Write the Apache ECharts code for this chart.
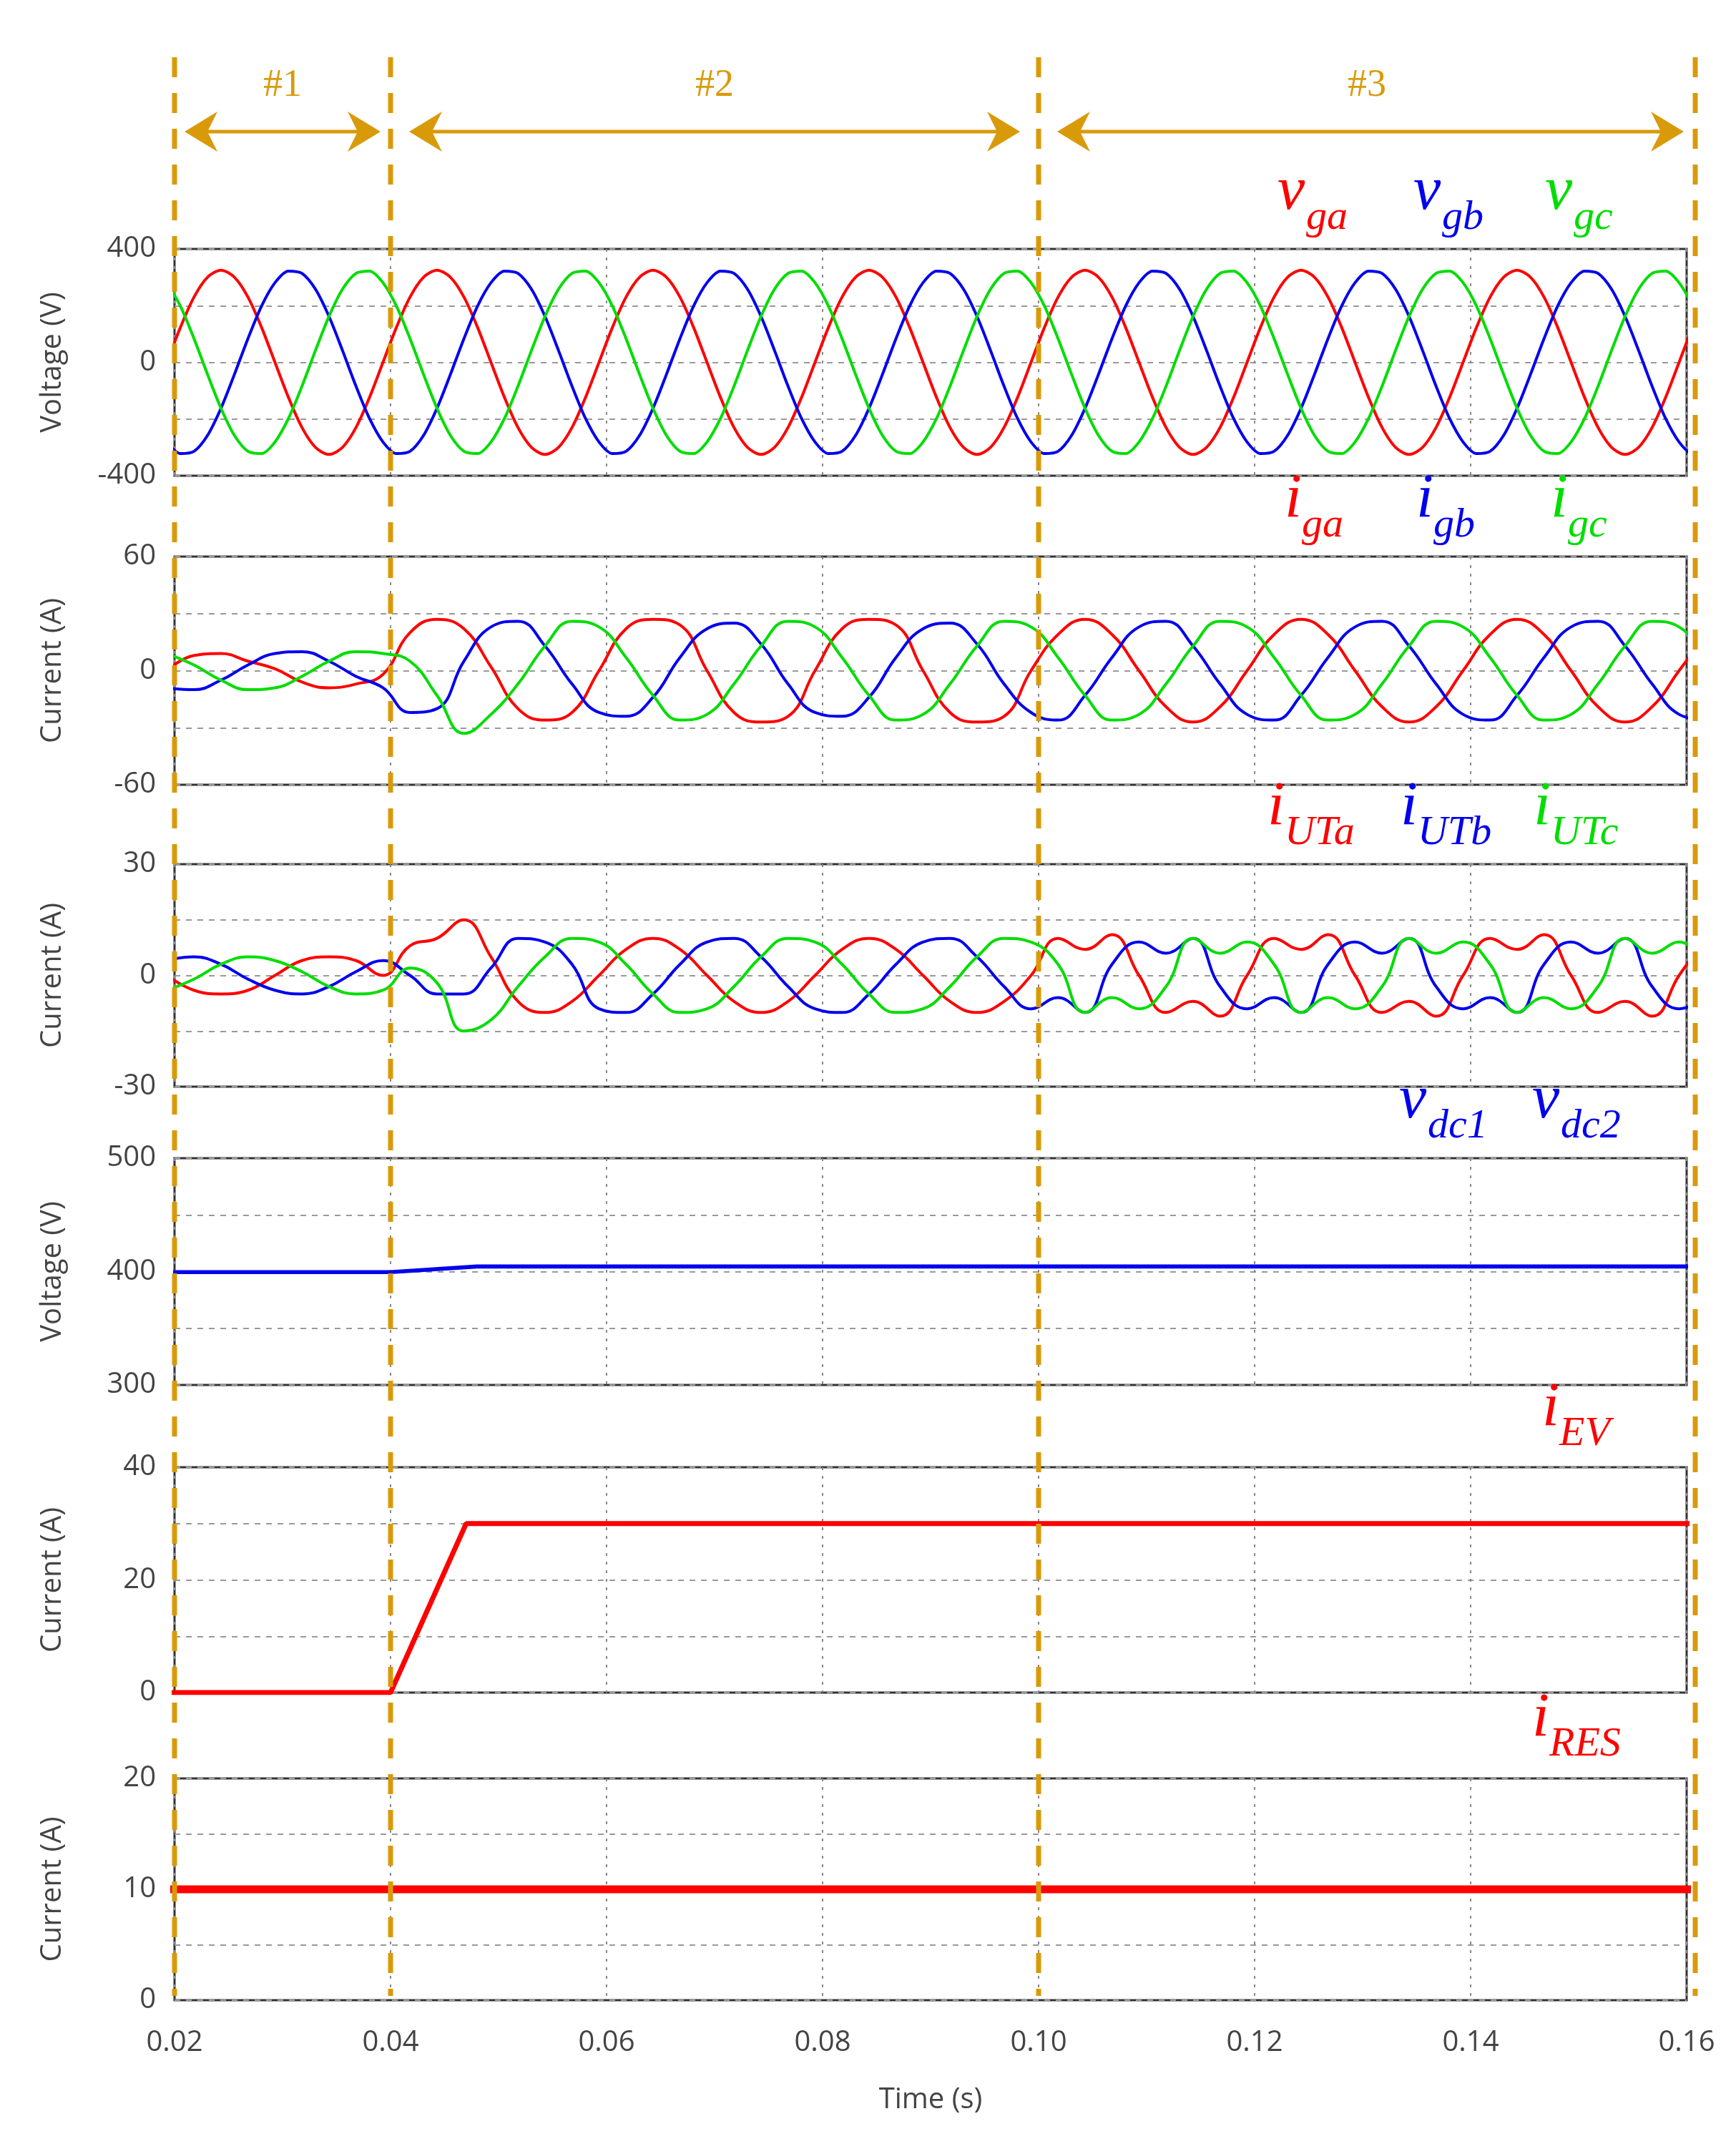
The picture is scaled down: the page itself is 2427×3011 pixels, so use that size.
<!DOCTYPE html>
<html>
<head>
<meta charset="utf-8">
<script src="https://cdn.jsdelivr.net/npm/echarts@6/dist/echarts.min.js"></script>
<style>html,body{margin:0;padding:0;background:#fff}#main{width:2427px;height:3011px}</style>
</head>
<body>
<div id="main"></div>
<script>
// sample times start at 0.0193 s; voltages every 0.00125 s, currents every 0.0025 s
var t0 = 0.0193, dtV = 0.00125, dtI = 0.0025;

// grid voltages (V)
var vga = [0,124,230,300,325,300,230,124,0,-124,-230,-300,-325,-300,-230,-124,
  0,124,230,300,325,300,230,124,0,-124,-230,-300,-325,-300,-230,-124,
  0,124,230,300,325,300,230,124,0,-124,-230,-300,-325,-300,-230,-124,
  0,124,230,300,325,300,230,124,0,-124,-230,-300,-325,-300,-230,-124,
  0,124,230,300,325,300,230,124,0,-124,-230,-300,-325,-300,-230,-124,
  0,124,230,300,325,300,230,124,0,-124,-230,-300,-325,-300,-230,-124,
  0,124,230,300,325,300,230,124,0,-124,-230,-300,-325,-300,-230,-124,
  0,124,230];
var vgb = [-281,-322,-314,-258,-162,-42,84,198,281,322,314,258,162,42,-84,-198,
  -281,-322,-314,-258,-162,-42,84,198,281,322,314,258,162,42,-84,-198,
  -281,-322,-314,-258,-162,-42,84,198,281,322,314,258,162,42,-84,-198,
  -281,-322,-314,-258,-162,-42,84,198,281,322,314,258,162,42,-84,-198,
  -281,-322,-314,-258,-162,-42,84,198,281,322,314,258,162,42,-84,-198,
  -281,-322,-314,-258,-162,-42,84,198,281,322,314,258,162,42,-84,-198,
  -281,-322,-314,-258,-162,-42,84,198,281,322,314,258,162,42,-84,-198,
  -281,-322,-314];
var vgc = [281,198,84,-42,-162,-258,-314,-322,-281,-198,-84,42,162,258,314,322,
  281,198,84,-42,-162,-258,-314,-322,-281,-198,-84,42,162,258,314,322,
  281,198,84,-42,-162,-258,-314,-322,-281,-198,-84,42,162,258,314,322,
  281,198,84,-42,-162,-258,-314,-322,-281,-198,-84,42,162,258,314,322,
  281,198,84,-42,-162,-258,-314,-322,-281,-198,-84,42,162,258,314,322,
  281,198,84,-42,-162,-258,-314,-322,-281,-198,-84,42,162,258,314,322,
  281,198,84,-42,-162,-258,-314,-322,-281,-198,-84,42,162,258,314,322,
  281,198,84];

// grid currents (A)
var iga = [0,8,9,5,1,-6,-9,-7,-2, 20,27,22,2,-20,-26,-22, 0,22,27,24,0,-22,-27,-24, 0,22,27,24,0,-22,-27,-24, 0,
  19,27,19,0,-19,-27,-19, 0,19,27,19,0,-19,-27,-19, 0,19,27,19,0,-19,-27,-19, 0,19];
var igb = [-9,-10,-5,3,9,10,5,-3,-9, -22,-20,5,23,26,13,-7, -22,-24,-14,7,22,25,14,-7, -22,-24,-14,7,22,25,14,-7, -22,
  -26,-13,7,23,26,13,-7, -23,-26,-13,7,23,26,13,-7, -23,-26,-13,7,23,26,13,-7, -23,-26];
var igc = [9,3,-5,-10,-9,-3,5,10,9, 5,-13,-33,-23,-7,13,26, 23,7,-13,-26,-23,-7,13,26, 23,7,-13,-26,-23,-7,13,26, 23,
  7,-13,-26,-23,-7,13,26, 23,7,-13,-26,-23,-7,13,26, 23,7,-13,-26,-23,-7,13,26, 23,7];

// utility-side converter currents (A)
var iua = [0,-4,-5,-4,0,4,5,4,0, 8,10,15,5,-7,-10,-7, 0,7,10,7,0,-7,-10,-7, 0,7,10,7,0,-7,-10,-7, 0,
  10,7,11,0,-10,-7,-11, 0,10,7,11,0,-10,-7,-11, 0,10,7,11,0,-10,-7,-11, 0,10];
var iub = [4,5,3,-1,-4,-5,-3,1,4, 0,-5,-5,2,10,9,3, -9,-10,-5,3,9,10,5,-3, -9,-10,-5,3,9,10,5,-3, -9,
  -6,-10,3,9,6,10,-3, -9,-6,-10,3,9,6,10,-3, -9,-6,-10,3,9,6,10,-3, -9,-6];
var iuc = [-4,-1,3,5,4,1,-3,-5,-4, 2,-2,-15,-12,-3,5,10, 9,3,-5,-10,-9,-3,5,10, 9,3,-5,-10,-9,-3,5,10, 9,
  3,-10,-6,-9,-3,10,6, 9,3,-10,-6,-9,-3,10,6, 9,3,-10,-6,-9,-3,10,6, 9,3];

// dc link, EV and RES
var dcT = [0.0193,0.040,0.048,0.1618];
var vdc1 = [400,400,405,405];
var vdc2 = [399,399,404,404];
var evT = [0.0193,0.040,0.047,0.1618];
var iEV = [0,0,30,30];
var resT = [0.0193,0.1618];
var iRES = [10,10];

var RED = '#ff0000', BLUE = '#0000ee', GREEN = '#00dd00', GOLD = '#d99a0a';

function pairs(xs, ys, step) {
	var out = [];
	for (var i = 0; i < ys.length; i++) out.push([xs ? xs[i] : +(t0 + i * step).toFixed(5), ys[i]]);
	return out;
}

var tops = [348, 778, 1208, 1619, 2051, 2486];
var hts = [317, 319, 311, 317, 315, 310];
var yCfg = [
	{min:-400, max:400, step:200, show:400, name:'Voltage (V)'},
	{min:-60, max:60, step:30, show:60, name:'Current (A)'},
	{min:-30, max:30, step:15, show:30, name:'Current (A)'},
	{min:300, max:500, step:50, show:100, name:'Voltage (V)'},
	{min:0, max:40, step:10, show:20, name:'Current (A)'},
	{min:0, max:20, step:5, show:10, name:'Current (A)'}
];

var grids = [], xAxes = [], yAxes = [];
yCfg.forEach(function(c, i) {
	grids.push({left:244, width:2114, top:tops[i], height:hts[i], show:true, borderColor:'#333', borderWidth:3});
	xAxes.push({
		type:'value', gridIndex:i, min:0.02, max:0.16, interval:0.02,
		axisLine:{show:false}, axisTick:{show:false},
		axisLabel:{show:i === 5, fontSize:40, color:'#444', margin:40, fontFamily:'Open Sans',
			formatter:function(v){ return v.toFixed(2); }},
		splitLine:{show:true, lineStyle:{type:[4,8], color:'#888', width:2}},
		name:i === 5 ? 'Time (s)' : '', nameLocation:'middle', nameGap:120,
		nameTextStyle:{fontSize:40, color:'#444', fontFamily:'Open Sans'}
	});
	yAxes.push({
		type:'value', gridIndex:i, min:c.min, max:c.max, interval:c.step,
		axisLine:{show:false}, axisTick:{show:false},
		axisLabel:{fontSize:40, color:'#444', margin:26, fontFamily:'Open Sans',
			formatter:function(v){ return v % c.show === 0 ? String(v) : ''; }},
		splitLine:{show:true, lineStyle:{type:[8,8], color:'#999', width:2}},
		name:c.name, nameLocation:'middle', nameGap:150,
		nameTextStyle:{fontSize:40, color:'#444', fontFamily:'Open Sans'}
	});
});

function line(idx, data, color, w, smooth) {
	return {type:'line', xAxisIndex:idx, yAxisIndex:idx, data:data, showSymbol:false,
		smooth:smooth || false, lineStyle:{color:color, width:w}, clip:true};
}

var series = [
	line(0, pairs(null, vga, dtV), RED, 4, 0.3), line(0, pairs(null, vgb, dtV), BLUE, 4, 0.3), line(0, pairs(null, vgc, dtV), GREEN, 4, 0.3),
	line(1, pairs(null, iga, dtI), RED, 4, 0.45), line(1, pairs(null, igb, dtI), BLUE, 4, 0.45), line(1, pairs(null, igc, dtI), GREEN, 4, 0.45),
	line(2, pairs(null, iua, dtI), RED, 4, 0.45), line(2, pairs(null, iub, dtI), BLUE, 4, 0.45), line(2, pairs(null, iuc, dtI), GREEN, 4, 0.45),
	line(3, pairs(dcT, vdc2), BLUE, 4), line(3, pairs(dcT, vdc1), BLUE, 4),
	line(4, pairs(evT, iEV), RED, 7),
	line(5, pairs(resT, iRES), RED, 11)
];

var chart = echarts.init(document.getElementById('main'));
chart.setOption({
	backgroundColor:'#fff', animation:false,
	grid:grids, xAxis:xAxes, yAxis:yAxes, series:series
});

// annotations: phase dashed lines, interval arrows, legend labels
var g = [];
var lx = [0.02, 0.04, 0.10].map(function(v){ return chart.convertToPixel({xAxisIndex:0}, v); });
lx.push(2370);
lx.forEach(function(x) {
	g.push({type:'line', shape:{x1:x, y1:80, x2:x, y2:2790}, z:100,
		style:{stroke:GOLD, lineWidth:7, lineDash:[28,22]}});
});
function arrow(x1, x2, y) {
	g.push({type:'line', shape:{x1:x1 + 20, y1:y, x2:x2 - 20, y2:y}, style:{stroke:GOLD, lineWidth:5}, z:100});
	g.push({type:'polygon', shape:{points:[[x1,y],[x1+46,y-28],[x1+32,y],[x1+46,y+28]]}, style:{fill:GOLD}, z:100});
	g.push({type:'polygon', shape:{points:[[x2,y],[x2-46,y-28],[x2-32,y],[x2-46,y+28]]}, style:{fill:GOLD}, z:100});
}
arrow(lx[0] + 14, lx[1] - 14, 184);
arrow(lx[1] + 26, lx[2] - 26, 184);
arrow(lx[2] + 26, lx[3] - 16, 184);
[['#1', (lx[0]+lx[1])/2], ['#2', (lx[1]+lx[2])/2], ['#3', (lx[2]+lx[3])/2]].forEach(function(p) {
	g.push({type:'text', x:p[1], y:120, z:100,
		style:{text:p[0], fill:GOLD, font:'54px "Liberation Serif"', textAlign:'center', textVerticalAlign:'middle'}});
});
function label(x, y, main, sub, color) {
	g.push({type:'text', x:x, y:y, z:100,
		style:{text:main, fill:color, font:'italic 86px "Liberation Serif"', textVerticalAlign:'bottom'}});
	var w = main === 'v' ? 40 : 24;
	g.push({type:'text', x:x + w, y:y + 22, z:100,
		style:{text:sub, fill:color, font:'italic 58px "Liberation Serif"', textVerticalAlign:'bottom'}});
}
label(1786, 312, 'v', 'ga', RED); label(1976, 312, 'v', 'gb', BLUE); label(2160, 312, 'v', 'gc', GREEN);
label(1796, 742, 'i', 'ga', RED); label(1980, 742, 'i', 'gb', BLUE); label(2168, 742, 'i', 'gc', GREEN);
label(1772, 1172, 'i', 'UTa', RED); label(1958, 1172, 'i', 'UTb', BLUE); label(2144, 1172, 'i', 'UTc', GREEN);
label(1956, 1582, 'v', 'dc1', BLUE); label(2142, 1582, 'v', 'dc2', BLUE);
label(2156, 2012, 'i', 'EV', RED);
label(2142, 2446, 'i', 'RES', RED);
chart.setOption({graphic:g});
</script>
</body>
</html>
